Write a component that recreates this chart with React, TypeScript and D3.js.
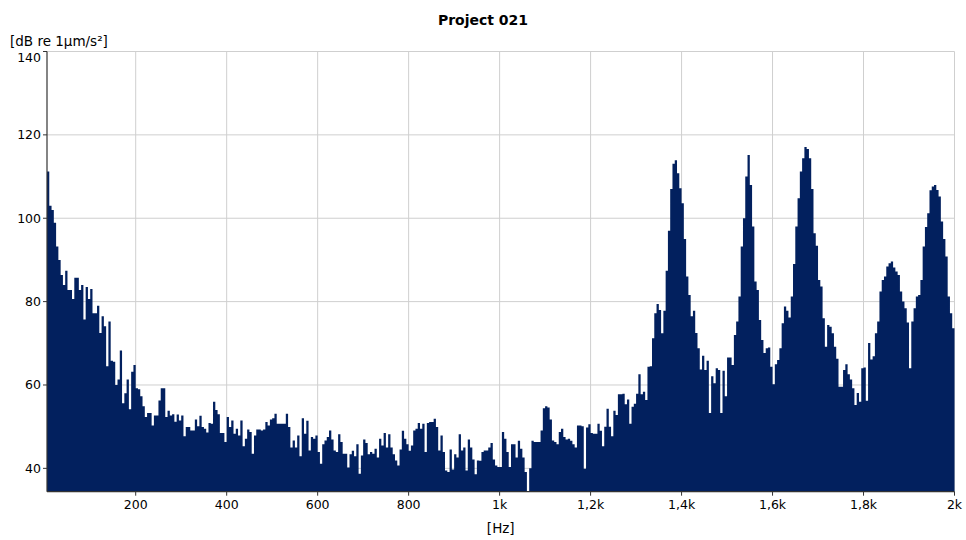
import React from "react";
import * as d3 from "d3";

// ---- data (5 Hz spectral lines, first line at 5 Hz) ----
const binStartHz = 5;
const binWidthHz = 5;

const levels5to285 = [
  111.2, 103, 102, 98.9, 93.2, 90, 86.4, 84, 87.4, 82.8,
  82.8, 80.6, 85.7, 85.7, 82.8, 84, 75.7, 83.5, 80.6, 83,
  77.2, 77.2, 79, 72.5, 76.5, 74.1, 64.5, 75.2, 65.8, 65.6,
  60, 61.3, 68.3, 55.6, 58, 61.3, 54.2, 63.2, 64.8, 59.2,
  59, 57.3, 54.9, 52.3, 53.3, 53.3, 50.3, 52.7, 52.7, 56.3,
  59.2, 59.2, 52.3, 53.8, 52.7, 53, 51.2,
];
const levels290to565 = [
  52.9, 51.5, 52.7, 47.7, 49.9, 49.9, 49.1, 49.1, 51.7, 50.1,
  52.6, 49.9, 49.5, 48.6, 50.9, 50.7, 56, 54, 53, 48.5,
  48.5, 46.3, 52.3, 49.9, 51.5, 48.3, 49.5, 47.9, 51.5, 45.3,
  47.1, 49.3, 48.7, 43.5, 47.9, 49.3, 49.3, 49.1, 49.3, 51.1,
  50.3, 51.7, 52, 53.1, 50.7, 50.7, 50.7, 50.7, 53.1, 49.9,
  45, 46.7, 45, 47.9, 42.9, 52,
];
const levels570to840 = [
  48.3, 51.4, 44.3, 47.5, 47.1, 47.9, 43.9, 41.1, 45.8, 46.7,
  47.5, 49.1, 46.9, 44.3, 43.9, 48.2, 46.3, 43.5, 43.5, 40.2,
  43.4, 44.2, 42.9, 45.8, 38.7, 43.1, 46.9, 46.1, 43.4, 43.9,
  43.5, 44.7, 42.6, 47.1, 45.5, 48.5, 45, 48.2, 45, 43.4,
  41.9, 40.7, 44.5, 49, 47.1, 45.8, 44.2, 45.5, 49.1, 49.5,
  50.9, 49.5, 50.7, 43.9, 50.9,
];
const levels845to1115 = [
  51.1, 51.1, 51.9, 49.9, 44.3, 47.9, 43.9, 39.5, 39.1, 44.5,
  39.7, 43.4, 42.6, 48.2, 44.3, 45, 39.5, 46.9, 45, 42.1,
  38.6, 41.9, 41.8, 43.9, 44.3, 44.3, 45, 46.1, 42.1, 40.7,
  40.3, 40.3, 48.7, 47.1, 43.9, 40.3, 45.8, 45.8, 42.6, 46.6,
  44.7, 42.6, 39.1, 34, 40, 46.6, 46.3, 46.3, 46.3, 49.1,
  54.4, 54.9, 54.6, 51.7, 46.7,
];
const levels1120to1360 = [
  46.3, 45.8, 48.7, 49.5, 47.5, 46.9, 47.1, 46.6, 45.8, 45,
  50.3, 50.3, 50.1, 39.9, 49.8, 50.6, 48.5, 48.3, 48.3, 50.7,
  49, 45.3, 50, 54.3, 50, 47.7, 53.8, 52.8, 57.8, 57.8,
  57.9, 55.4, 56.5, 50.7, 54.8, 55.5, 57.9, 62.6, 57.8, 58.4,
  56.4, 64.4, 64.5, 71.2, 77.2, 79.4, 78, 72.4, 77.8,
];
const levels1365to1615 = [
  87.4, 97, 107, 113.1, 113.9, 110.8, 107.2, 103.6, 95, 86,
  81.6, 76.5, 77.8, 72.5, 68.8, 63.7, 67, 63.6, 65.8, 53.3,
  62.1, 60.4, 64, 63.6, 53.3, 63.4, 57.3, 66.6, 66.6, 64.8,
  72, 75.2, 81.2, 93.2, 100, 110, 115.2, 108, 98, 84.8,
  82.8, 75.6, 70.8, 67.7, 68.8, 69, 64.4, 60.2, 65, 66, 68.8,
];
const levels1620to1995 = [
  74.8, 78.8, 77.8, 76.2, 81.2, 89, 98, 104.8, 111.2, 114.4,
  117.1, 116.6, 114.4, 107, 96.4, 93.4, 85.2, 83.6, 76, 69.2,
  74.4, 74, 72.4, 69.2, 66.3, 59.6, 59.6, 63.6, 65, 62.6,
  61.3, 59.2, 55.2, 58.1, 56, 64, 64.2, 56.2, 70.1, 66.1,
  66.9, 72.4, 75.2, 82.4, 85.2, 86, 88.4, 89.2, 89.6, 88.2,
  87.2, 86.4, 82.4, 80, 78.4, 75, 64, 75.2, 78.4, 81.2,
  81.6, 85.2, 93.2, 97.9, 101.2, 106.7, 107.6, 108, 106.8, 105.2,
  99.2, 95, 90.8, 81.2, 77.2, 73.6,
];

const xTickValues = [200, 400, 600, 800, 1000, 1200, 1400, 1600, 1800, 2000];
const xTickLabels = ["200", "400", "600", "800", "1k", "1,2k", "1,4k", "1,6k", "1,8k", "2k"];
const yTickValues = [40, 60, 80, 100, 120, 140];

const title = "Project 021";
const yAxisLabel = "[dB re 1µm/s²]";
const xAxisLabel = "[Hz]";

const levels = [
  ...levels5to285,
  ...levels290to565,
  ...levels570to840,
  ...levels845to1115,
  ...levels1120to1360,
  ...levels1365to1615,
  ...levels1620to1995,
];

const W = 966;
const H = 540;
const plot = { left: 47, right: 954.5, top: 51.5, bottom: 491.7 };
const FONT = "'DejaVu Sans', Verdana, sans-serif";
const BAR = "#02205e";
const GRID = "#cfcfcf";

export default function App() {
  const x = d3.scaleLinear().domain([5, 2000]).range([plot.left, plot.right]);
  const y = d3.scaleLinear().domain([34.4, 140]).range([plot.bottom, plot.top]);

  const pts: [number, number][] = levels.map((v, i) => [binStartHz + i * binWidthHz, v]);
  pts.push([binStartHz + levels.length * binWidthHz, levels[levels.length - 1]]);

  const area = d3
    .area<[number, number]>()
    .x((d) => x(d[0]))
    .y0(plot.bottom)
    .y1((d) => y(Math.max(d[1], 34.4)))
    .curve(d3.curveStepAfter);

  return (
    <div style={{ position: "absolute", left: 0, top: 0 }}>
      <svg width={W} height={H} style={{ display: "block", background: "#fff" }}>
        <text x={W / 2} y={25} textAnchor="middle" fontFamily={FONT} fontWeight="bold" fontSize={14} fill="#000">
          {title}
        </text>
        <text x={10} y={46} fontFamily={FONT} fontSize={13.5} fill="#000">
          {yAxisLabel}
        </text>

        {/* grid */}
        {yTickValues.map((t) => (
          <line key={"gy" + t} x1={plot.left} x2={plot.right} y1={y(t)} y2={y(t)} stroke={GRID} strokeWidth={1} />
        ))}
        {xTickValues.map((t) => (
          <line key={"gx" + t} x1={x(t)} x2={x(t)} y1={plot.top} y2={plot.bottom} stroke={GRID} strokeWidth={1} />
        ))}

        {/* spectrum */}
        <path d={area(pts) || ""} fill={BAR} stroke="none" />

        {/* axes */}
        <line x1={plot.left} x2={plot.left} y1={plot.top} y2={plot.bottom} stroke="#333" strokeWidth={1.2} />
        <line x1={plot.left} x2={plot.right} y1={plot.bottom} y2={plot.bottom} stroke="#333" strokeWidth={1.2} />

        {yTickValues.map((t) => (
          <g key={"ty" + t}>
            <line x1={plot.left - 4} x2={plot.left} y1={y(t)} y2={y(t)} stroke="#333" />
            <text
              x={plot.left - 6}
              y={Math.max(y(t), 57) + 4.5}
              textAnchor="end"
              fontFamily={FONT}
              fontSize={12.5}
              fill="#000"
            >
              {t}
            </text>
          </g>
        ))}
        {xTickValues.map((t, i) => (
          <g key={"tx" + t}>
            <line x1={x(t)} x2={x(t)} y1={plot.bottom} y2={plot.bottom + 4} stroke="#333" />
            <text x={x(t)} y={509} textAnchor="middle" fontFamily={FONT} fontSize={12.5} fill="#000">
              {xTickLabels[i]}
            </text>
          </g>
        ))}
        <text x={(plot.left + plot.right) / 2} y={533} textAnchor="middle" fontFamily={FONT} fontSize={13.5} fill="#000">
          {xAxisLabel}
        </text>
      </svg>
    </div>
  );
}
